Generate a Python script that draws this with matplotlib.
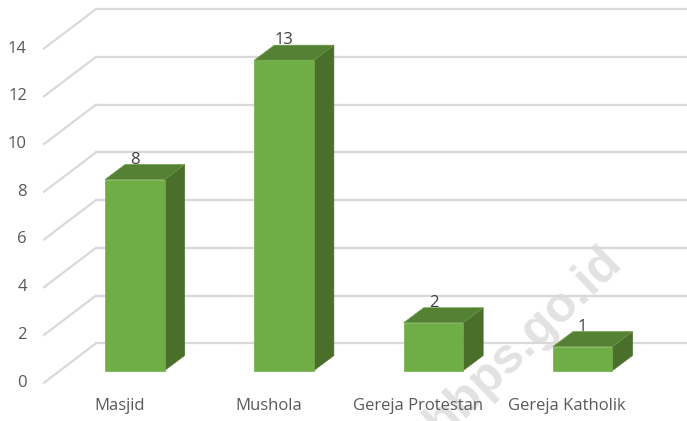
import matplotlib
matplotlib.use("Agg")
import matplotlib.pyplot as plt
from matplotlib.patches import Polygon

# -----------------------------
# Data
# -----------------------------
categories = ["Masjid", "Mushola", "Gereja Protestan", "Gereja Katholik"]
values = [8, 13, 2, 1]
y_ticks = [0, 2, 4, 6, 8, 10, 12, 14]

WIDTH, HEIGHT = 687, 421

# pixel layout of the fake 3d box
X0, X_STEP = 134.8, 149.3   # centre of first bar, distance between bars
Y0, Y_UNIT = 370.5, 23.87  # pixel row of value 0, pixels per unit
BAR_W = 59.5 / X_STEP
DEPTH_X, DEPTH_Y = 20 / X_STEP, 15 / Y_UNIT

plt.rcParams["font.family"] = ["Open Sans", "DejaVu Sans"]

fig = plt.figure(figsize=(WIDTH / 100, HEIGHT / 100), dpi=100)
ax = fig.add_axes([0, 0, 1, 1])
ax.set_xlim(-X0 / X_STEP, (WIDTH - X0) / X_STEP)
ax.set_ylim((Y0 - HEIGHT) / Y_UNIT, Y0 / Y_UNIT)
ax.axis("off")

# -----------------------------
# Watermark, runs off the bottom edge like the original
# -----------------------------
ax.text((614 - X0) / X_STEP, (Y0 - 254) / Y_UNIT, "hbps.go.id", rotation=44,
        rotation_mode="anchor", ha="right", va="center", fontsize=36, fontweight="bold",
        family="Liberation Sans", color="#e2e2e2", zorder=0.5)

# -----------------------------
# Gridlines (side wall and back wall)
# -----------------------------
front_x = (44 - X0) / X_STEP
back_x = (96 - X0) / X_STEP
end_x = (WIDTH - X0) / X_STEP
front_dy = -12.2 / Y_UNIT
back_dy = 27.2 / Y_UNIT

for v in y_ticks:
    ax.plot([front_x, back_x], [v + front_dy, v + back_dy], color="#d9d9d9", lw=1.6, zorder=1)
    ax.plot([back_x, end_x], [v + back_dy, v + back_dy], color="#d9d9d9", lw=1.6, zorder=1)
    ax.text((27 - X0) / X_STEP, v + front_dy, str(v), ha="right", va="center",
            fontsize=12, color="#595959", zorder=2)

# -----------------------------
# Bars
# -----------------------------
for i, (name, v) in enumerate(zip(categories, values)):
    left = i - BAR_W / 2
    right = i + BAR_W / 2
    ax.add_patch(Polygon([(right, 0), (right + DEPTH_X, DEPTH_Y), (right + DEPTH_X, v + DEPTH_Y), (right, v)],
                         facecolor="#4a6f2b", edgecolor="#4a6f2b", lw=0.5, zorder=3))
    ax.add_patch(Polygon([(left, v), (left + DEPTH_X, v + DEPTH_Y), (right + DEPTH_X, v + DEPTH_Y), (right, v)],
                         facecolor="#558135", edgecolor="#6a9a45", lw=0.5, zorder=3))
    ax.add_patch(Polygon([(left, 0), (right, 0), (right, v), (left, v)],
                         facecolor="#70ad47", edgecolor="#70ad47", lw=0.5, zorder=4))
    ax.text(i, v + 20 / Y_UNIT, str(v), ha="center", va="center", fontsize=12, color="#404040", zorder=5)
    ax.text(i - 15.5 / X_STEP, -36 / Y_UNIT, name, ha="center", va="center", fontsize=12,
            color="#595959", zorder=5)

fig.savefig("out.png", dpi=100, facecolor="white")
